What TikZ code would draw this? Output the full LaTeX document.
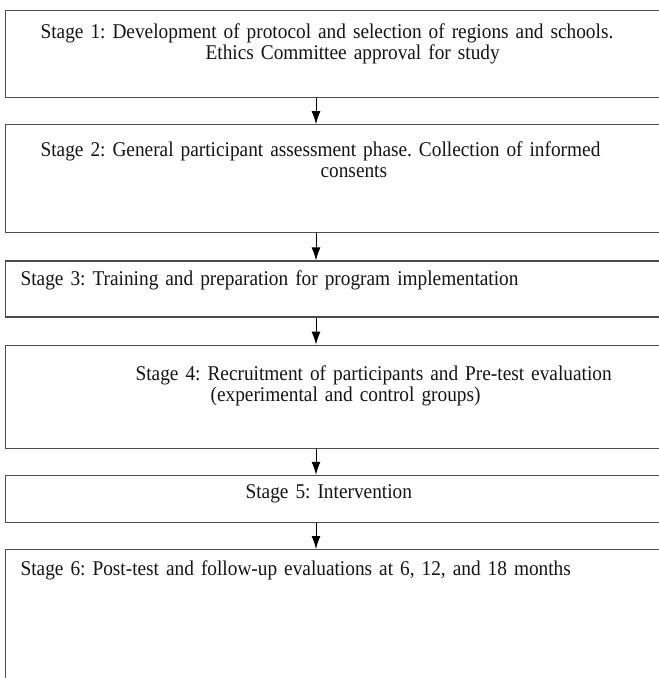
\documentclass[tikz,border=0pt]{standalone}
\usepackage{fontspec}
\setmainfont{Liberation Serif}[FakeStretch=0.92]
\usetikzlibrary{arrows.meta,positioning}
\definecolor{ln}{rgb}{0.3,0.3,0.3}
\definecolor{tx}{rgb}{0.08,0.08,0.08}
\tikzstyle{stagebox}=[draw=ln,line width=1.2pt,anchor=north west,text width=700pt,align=left,inner xsep=0pt,inner ysep=0pt,text=tx,font=\fontsize{21}{21}\selectfont\frenchspacing]
\begin{document}
\begin{tikzpicture}[x=1pt,y=-1pt,->,>={Latex[length=13pt,width=9pt]}]
	\useasboundingbox (0,0) rectangle (659,678);
	\clip (0,0) rectangle (659,678);
	\coordinate (ax) at (316,0);
	\node[stagebox,text height=28pt,text depth=59pt] (s1) at (5,10) {\hspace*{35pt}Stage 1: Development of protocol and selection of regions and schools.\\\hspace*{200pt}Ethics Committee approval for study};
	\node[stagebox,text height=32pt,text depth=76pt,below=26pt of s1.south west,anchor=north west] (s2) {\hspace*{35pt}Stage 2: General participant assessment phase. Collection of informed\\\hspace*{315pt}consents};
	\node[stagebox,text height=24pt,text depth=32pt,below=27pt of s2.south west,anchor=north west] (s3) {\hspace*{15pt}Stage 3: Training and preparation for program implementation};
	\node[stagebox,text height=35pt,text depth=68pt,below=27pt of s3.south west,anchor=north west] (s4) {\hspace*{130pt}Stage 4: Recruitment of participants and Pre-test evaluation\\\hspace*{205pt}(experimental and control groups)};
	\node[stagebox,text height=23pt,text depth=24pt,below=26pt of s4.south west,anchor=north west] (s5) {\hspace*{240pt}Stage 5: Intervention};
	\node[stagebox,text height=26pt,text depth=130pt,below=26pt of s5.south west,anchor=north west] (s6) {\hspace*{15pt}Stage 6: Post-test and follow-up evaluations at 6, 12, and 18 months};
	\foreach \a/\b in {s1/s2,s2/s3,s3/s4,s4/s5,s5/s6}
		\draw[line width=1pt] (\a.south -| ax) -- (\b.north -| ax);
\end{tikzpicture}
\end{document}
